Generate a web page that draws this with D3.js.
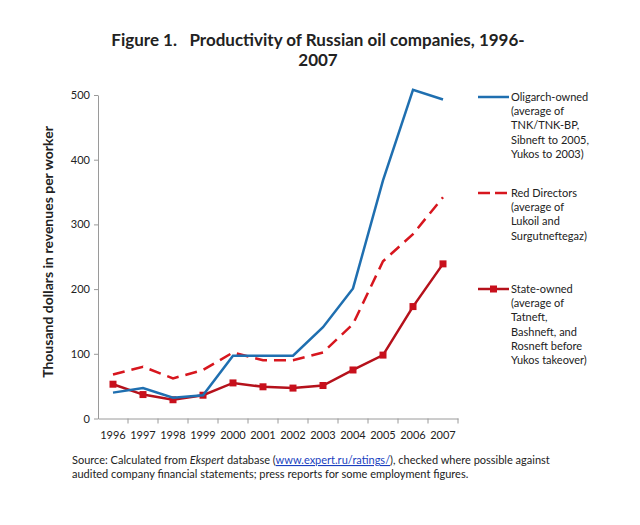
<!DOCTYPE html>
<html>
<head>
<meta charset="utf-8">
<script src="https://cdn.jsdelivr.net/npm/d3@7"></script>
<style>
  body { margin: 0; background: #fff; }
  text { font-family: Lato, "Open Sans", sans-serif; fill: #222; }
</style>
</head>
<body>
<div id="chart"></div>
<script>
// Data
var years = ["1996","1997","1998","1999","2000","2001","2002","2003","2004","2005","2006","2007"];
var oligarch = [40, 47, 32, 36, 97, 97, 97, 141, 201, 368, 508, 493];
var redDirectors = [68, 80, 62, 75, 102, 90, 90, 102, 146, 243, 285, 342];
var stateOwned = [53, 37, 29, 36, 55, 49, 47, 51, 75, 98, 173, 239];
var yTicks = [0, 100, 200, 300, 400, 500];

var svgWidth = 640;
var svgHeight = 525;
var margin = {top: 95, left: 98, right: 182, bottom: 107};
var chartWidth = svgWidth - margin.left - margin.right;
var chartHeight = svgHeight - margin.top - margin.bottom;

var svg = d3.select("#chart").append("svg").attr("width", svgWidth).attr("height", svgHeight);
var chartGroup = svg.append("g").attr("transform", `translate(${margin.left},${margin.top})`);

var xScale = d3.scaleBand().domain(years).range([0, 360]);
var yScale = d3.scaleLinear().domain([0, 500]).range([chartHeight + 0.5, 0]);

// Axes
var leftAxis = d3.axisLeft(yScale).tickValues(yTicks).tickSize(4).tickSizeOuter(0);
var yAxis = chartGroup.append("g").call(leftAxis);
yAxis.select(".domain").attr("stroke", "#9a9a9a");
yAxis.selectAll(".tick line").attr("stroke", "#9a9a9a");
yAxis.selectAll("text").attr("font-size", "11px").attr("x", -8);

var bottomAxis = d3.axisBottom(xScale).tickSize(0).tickSizeOuter(0);
var xAxis = chartGroup.append("g").attr("transform", `translate(0,${yScale(0)})`).call(bottomAxis);
xAxis.select(".domain").attr("stroke", "#9a9a9a");
xAxis.selectAll("text").attr("font-size", "11px").attr("dy", "1.55em");
// tick marks between categories
xAxis.selectAll(".sep").data(years).enter().append("line")
  .attr("x1", d => xScale(d) + xScale.bandwidth()).attr("x2", d => xScale(d) + xScale.bandwidth())
  .attr("y1", 0).attr("y2", 5).attr("stroke", "#9a9a9a");

var cx = d => xScale(d) + xScale.bandwidth() / 2;
var line = d3.line().x((d, i) => cx(years[i])).y(d => yScale(d));

chartGroup.append("path").datum(redDirectors).attr("d", line)
  .attr("fill", "none").attr("stroke", "#d7161e").attr("stroke-width", 2.5).attr("stroke-dasharray", "12,7");
chartGroup.append("path").datum(stateOwned).attr("d", line)
  .attr("fill", "none").attr("stroke", "#b5111b").attr("stroke-width", 2.5);
chartGroup.selectAll(".sq").data(stateOwned).enter().append("rect")
  .attr("x", (d, i) => cx(years[i]) - 3.5).attr("y", d => yScale(d) - 3.5)
  .attr("width", 7).attr("height", 7).attr("fill", "#c8101c");
chartGroup.append("path").datum(oligarch).attr("d", line)
  .attr("fill", "none").attr("stroke", "#1f6fb0").attr("stroke-width", 2.5);

// Title
svg.append("text").attr("x", 318).attr("y", 46).attr("text-anchor", "middle")
  .attr("font-size", "17px").attr("font-weight", "bold").attr("fill", "#111")
  .attr("xml:space", "preserve").text("Figure 1.   Productivity of Russian oil companies, 1996-");
svg.append("text").attr("x", 318).attr("y", 66).attr("text-anchor", "middle")
  .attr("font-size", "17px").attr("font-weight", "bold").attr("fill", "#111").text("2007");

// Y axis label
svg.append("text").attr("transform", "translate(53,252) rotate(-90)").attr("text-anchor", "middle")
  .attr("font-size", "14px").attr("font-weight", "bold").attr("fill", "#111")
  .text("Thousand dollars in revenues per worker");

// Legend
var legendItems = [
  {color: "#1f6fb0", dash: null, marker: false, y: 101,
   lines: ["Oligarch-owned", "(average of", "TNK/TNK-BP,", "Sibneft to 2005,", "Yukos to 2003)"]},
  {color: "#d7161e", dash: "12,5", marker: false, y: 197,
   lines: ["Red Directors", "(average of", "Lukoil and", "Surgutneftegaz)"]},
  {color: "#b5111b", dash: null, marker: true, y: 293,
   lines: ["State-owned", "(average of", "Tatneft,", "Bashneft, and", "Rosneft before", "Yukos takeover)"]}
];
legendItems.forEach(item => {
  var g = svg.append("g");
  var l = g.append("line").attr("x1", 478).attr("x2", 509).attr("y1", item.y - 4).attr("y2", item.y - 4)
    .attr("stroke", item.color).attr("stroke-width", 2.5);
  if (item.dash) l.attr("stroke-dasharray", item.dash);
  if (item.marker) g.append("rect").attr("x", 490).attr("y", item.y - 7.5).attr("width", 7).attr("height", 7).attr("fill", "#c8101c");
  var t = g.append("text").attr("x", 511).attr("y", item.y).attr("font-size", "11px");
  item.lines.forEach((s, i) => {
    t.append("tspan").attr("x", 511).attr("dy", i === 0 ? 0 : 14.2).text(s);
  });
});

// Source note
var note = svg.append("text").attr("x", 72).attr("y", 464).attr("font-size", "11px");
note.append("tspan").text("Source: Calculated from ");
note.append("tspan").attr("font-style", "italic").text("Ekspert");
note.append("tspan").text(" database (");
note.append("tspan").attr("fill", "#1a3fc0").attr("text-decoration", "underline").text("www.expert.ru/ratings/");
note.append("tspan").text("), checked where possible against");
svg.append("text").attr("x", 72).attr("y", 478).attr("font-size", "11px")
  .text("audited company financial statements; press reports for some employment figures.");
</script>
</body>
</html>
